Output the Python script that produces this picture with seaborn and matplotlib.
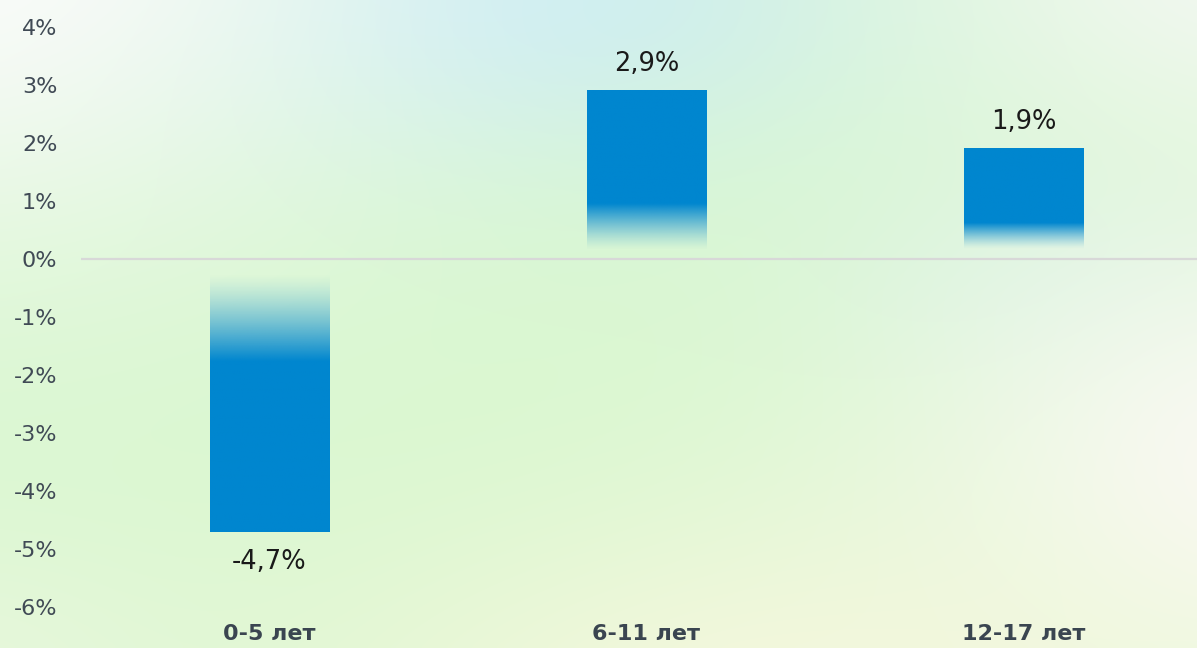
import numpy as np
import pandas as pd
import seaborn as sns
import matplotlib.pyplot as plt
from matplotlib.colors import to_rgb

categories = ['0-5 лет', '6-11 лет', '12-17 лет']
values = [-4.7, 2.9, 1.9]
value_labels = ['-4,7%', '2,9%', '1,9%']
y_ticks = [4, 3, 2, 1, 0, -1, -2, -3, -4, -5, -6]
y_tick_labels = ['4%', '3%', '2%', '1%', '0%', '-1%', '-2%', '-3%', '-4%', '-5%', '-6%']

BAR = '#0086cf'
W, H = 1197, 648

sns.set_theme(style='white')
plt.rcParams['font.family'] = ['DejaVu Sans']

fig = plt.figure(figsize=(W / 100, H / 100), dpi=100)
fig.patch.set_facecolor('white')

# soft background: green base with lighter / tinted blobs
bg = fig.add_axes([0, 0, 1, 1], zorder=-1)
gx, gy = np.meshgrid(np.linspace(0, W, 300), np.linspace(0, H, 162))
img = np.ones((162, 300, 3)) * np.array(to_rgb('#d8f7cf'))
blobs = [
    ('#c8ecf1', 520, -10, 380, 170, 0.95),
    ('#fbfbfb', -80, -80, 480, 330, 1.0),
    ('#f5f8f5', 1280, -60, 360, 220, 0.9),
    ('#d6f1e2', 1040, 280, 220, 110, 0.6),
    ('#f9f9f4', 1280, 470, 380, 260, 1.0),
    ('#f7f8de', 800, 720, 520, 220, 0.9),
    ('#eef7e2', -60, 680, 260, 160, 0.6),
]
for c, cx, cy, rx, ry, a in blobs:
    w = a * np.exp(-(((gx - cx) / rx) ** 2 + ((gy - cy) / ry) ** 2))
    img = img * (1 - w[..., None]) + np.array(to_rgb(c)) * w[..., None]
bg.imshow(img, extent=[0, 1, 0, 1], aspect='auto', interpolation='bicubic')
bg.axis('off')

ax = fig.add_axes([81 / W, 41 / H, (W - 81) / W, 580 / H])
ax.patch.set_alpha(0)

df = pd.DataFrame({'cat': categories, 'val': values})
sns.barplot(data=df, x='cat', y='val', color=BAR, width=0.316, ax=ax,
            saturation=1, zorder=2)

# gradient fade towards zero
fades = [(0.25, 1.75), (0.15, 0.95), (0.17, 0.62)]
base = np.array(to_rgb(BAR))
for p, (f0, f1) in zip(ax.patches, fades):
    x0, w = p.get_x(), p.get_width()
    y0, h = p.get_y(), p.get_height()
    lo, hi = min(y0, y0 + h), max(y0, y0 + h)
    ys = np.linspace(lo, hi, 400)
    d = np.abs(ys)
    alpha = np.clip((d - f0) / (f1 - f0), 0, 1) ** 1.3
    grad = np.zeros((400, 1, 4))
    grad[:, 0, :3] = base
    grad[:, 0, 3] = alpha
    ax.imshow(grad, extent=[x0, x0 + w, lo, hi], origin='lower',
              aspect='auto', zorder=2, interpolation='bilinear')
    p.set_visible(False)

for i, (v, t) in enumerate(zip(values, value_labels)):
    off = 0.47 if v > 0 else -0.52
    ax.text(i, v + off, t, ha='center', va='center', fontsize=18.5,
            color='#1a1a1a')

ax.axhline(0, color='#d8d8d8', lw=1.6, zorder=1)
ax.set_xlim(-0.5, 2.5 - 15 / 377)
ax.set_ylim(-6, 4)
ax.set_yticks(y_ticks)
ax.set_yticklabels(y_tick_labels)
ax.tick_params(axis='y', length=0, pad=17, labelsize=16, labelcolor='#404a55')
ax.tick_params(axis='x', length=0, pad=12, labelsize=16, labelcolor='#3a4550')
for lab in ax.get_xticklabels():
    lab.set_fontweight('bold')
ax.set_xlabel('')
ax.set_ylabel('')
sns.despine(ax=ax, left=True, bottom=True)
ax.grid(False)

fig.savefig('out.png', dpi=100)
